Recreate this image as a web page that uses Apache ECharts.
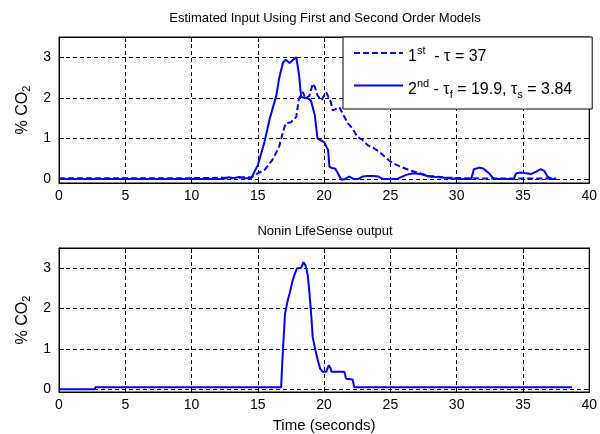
<!DOCTYPE html>
<html>
<head>
<meta charset="utf-8">
<script src="https://cdn.jsdelivr.net/npm/echarts@6/dist/echarts.min.js"></script>
<style>
    html, body { margin: 0; padding: 0; background: #fff; }
    #chart { width: 600px; height: 434px; }
</style>
</head>
<body>
<div id="chart"></div>
<script>
// first order model estimate (dashed)
var firstT = [0, 5, 10, 12.5, 13, 13.5, 14, 14.5, 15.0, 15.5, 16.1, 16.6, 16.9, 17.1, 17.5, 17.9, 18.1, 18.4, 18.6, 18.9,
    19.14, 19.3, 19.5, 19.8, 20.0, 20.15, 20.5, 20.65, 20.85, 21.15, 21.4, 21.8, 22.15, 22.5, 22.9, 23.3, 23.8, 24.3,
    24.7, 25.05, 25.5, 26.4, 27.2, 27.9, 28.7, 29.3, 30.4, 32, 35, 37.5];
var firstY = [0.02, 0.02, 0.02, 0.03, 0.02, 0.03, 0.04, 0.04, 0.14, 0.22, 0.47, 0.79, 1.16, 1.37, 1.40, 1.53, 1.98, 2.14, 1.98, 2.06,
    2.35, 2.27, 2.06, 1.94, 2.06, 2.14, 1.9, 1.69, 1.72, 1.77, 1.61, 1.37, 1.24, 1.04, 0.96, 0.83, 0.75, 0.63,
    0.51, 0.42, 0.34, 0.22, 0.14, 0.07, 0.05, 0.03, 0.02, 0.01, 0.01, 0.01];

// second order model estimate (solid)
var secondT = [0, 5, 10, 12.4, 12.8, 13.2, 13.6, 14.0, 14.5, 15.0, 15.5, 15.9, 16.4, 16.6, 16.9, 17.1, 17.4, 17.6, 17.9, 18.1,
    18.27, 18.5, 18.8, 19.0, 19.3, 19.5, 19.7, 20.0, 20.3, 20.4, 20.6, 20.85, 21.3, 21.6, 21.9, 22.2, 22.6, 22.9, 23.3,
    23.7, 24.1, 24.4, 25.5, 26.2, 26.7, 27.3, 27.9, 28.7, 29.4, 30.2, 31.1, 31.3, 31.7, 32.0, 32.45, 32.8, 34.3, 34.5,
    34.85, 35.6, 36.0, 36.35, 36.6, 36.85, 37.2, 37.5];
var secondY = [0, 0, 0, 0, 0.04, 0.02, 0.05, 0.02, 0.02, 0.34, 0.91, 1.49, 2.06, 2.47, 2.87, 2.94, 2.86, 2.92, 3.0, 2.59,
    2.02, 2.0, 1.98, 1.94, 1.57, 1.0, 0.96, 0.91, 0.71, 0.3, 0.27, 0.25, -0.02, 0.0, 0.06, 0.0, 0.0, 0.06, 0.07,
    0.07, 0.06, 0.0, 0.0, 0.1, 0.14, 0.12, 0.06, 0.04, 0.02, 0, 0, 0.24, 0.28, 0.26, 0.14, 0, 0, 0.14,
    0.16, 0.12, 0.18, 0.24, 0.2, 0.06, 0, 0];

// Nonin LifeSense output
var noninT = [0, 2.7, 2.75, 10, 16.76, 16.8, 16.9, 16.95, 17.05, 17.25, 17.4, 17.6, 17.75, 17.94, 18.27, 18.44, 18.6, 18.77,
    18.9, 19.02, 19.14, 19.34, 19.52, 19.7, 19.9, 20.15, 20.35, 20.5, 20.55, 21.53, 21.66, 22.15, 22.28, 30, 38.7];
var noninY = [0.0, 0.0, 0.05, 0.05, 0.05, 0.35, 1.0, 1.0, 1.87, 2.2, 2.37, 2.66, 2.82, 2.99, 3.01, 3.15, 3.07, 2.82,
    2.37, 1.87, 1.29, 0.97, 0.72, 0.51, 0.43, 0.43, 0.59, 0.51, 0.43, 0.43, 0.26, 0.24, 0.05, 0.05, 0.05];

var xTicks = [0, 5, 10, 15, 20, 25, 30, 35, 40];
var yTicks = [0, 1, 2, 3];

function pairs(t, y) {
    return t.map(function (v, i) { return [v, y[i]]; });
}

var font = 'Liberation Sans, Arial, sans-serif';
var gridLine = { show: true, lineStyle: { color: '#000', type: [4, 3], width: 1 } };
var tickIn = { show: true, inside: true, length: 5, lineStyle: { color: '#000' } };

function xAx(gi, bottom, name) {
    return {
        type: 'value', gridIndex: gi, min: xTicks[0], max: xTicks[xTicks.length - 1], interval: 5,
        position: bottom ? 'bottom' : 'top',
        axisLine: { show: true, onZero: false, lineStyle: { color: '#000' } },
        axisTick: tickIn,
        axisLabel: { show: bottom, color: '#000', fontFamily: font, fontSize: 14, margin: 6 },
        splitLine: bottom ? gridLine : { show: false },
        name: name || '', nameLocation: 'middle', nameGap: 26,
        nameTextStyle: { color: '#000', fontFamily: font, fontSize: 15 }
    };
}
function yAx(gi, left, min) {
    return {
        type: 'value', gridIndex: gi, min: min, max: 3.5,
        position: left ? 'left' : 'right',
        axisLine: { show: true, onZero: false, lineStyle: { color: '#000' } },
        axisTick: tickIn,
        axisLabel: {
            show: left, color: '#000', fontFamily: font, fontSize: 14, margin: 8,
            showMinLabel: false, showMaxLabel: false,
            formatter: function (v) { return yTicks.indexOf(v) >= 0 ? String(v) : ''; }
        },
        splitLine: left ? gridLine : { show: false },
        name: left ? '% CO{sub|2}' : '', nameLocation: 'middle', nameGap: 22,
        nameTextStyle: {
            color: '#000', fontFamily: font, fontSize: 16,
            rich: { sub: { fontSize: 11, fontFamily: font, color: '#000', padding: [9, 0, 0, 0] } }
        }
    };
}

var chart = echarts.init(document.getElementById('chart'));
chart.setOption({
    backgroundColor: '#fff',
    animation: false,
    title: [
        { text: 'Estimated Input Using First and Second Order Models', left: 325, top: 12, padding: 0, textAlign: 'center',
          textStyle: { fontFamily: font, fontSize: 13, fontWeight: 'normal', color: '#000' } },
        { text: 'Nonin LifeSense output', left: 325, top: 225, padding: 0, textAlign: 'center',
          textStyle: { fontFamily: font, fontSize: 13, fontWeight: 'normal', color: '#000' } }
    ],
    grid: [
        { left: 59, top: 37, width: 531, height: 146, show: true, borderColor: '#000', borderWidth: 1, backgroundColor: '#fff' },
        { left: 59, top: 248, width: 531, height: 144, show: true, borderColor: '#000', borderWidth: 1, backgroundColor: '#fff' }
    ],
    xAxis: [xAx(0, true), xAx(0, false), xAx(1, true, 'Time (seconds)'), xAx(1, false)],
    yAxis: [yAx(0, true, -0.1), yAx(0, false, -0.1), yAx(1, true, -0.07), yAx(1, false, -0.07)],
    legend: {
        orient: 'vertical', left: 343, top: 37,
        padding: [3, 20, 8, 10], itemGap: 4, itemWidth: 49, itemHeight: 14,
        backgroundColor: '#fff', borderColor: '#000', borderWidth: 1, borderRadius: 0,
        itemStyle: { opacity: 0 },
        data: ['first', 'second'],
        formatter: function (n) {
            return n === 'first' ? '1{sup|st}  - \u03c4 = 37' : '2{sup|nd} - \u03c4{sub|f} = 19.9, \u03c4{sub|s} = 3.84';
        },
        textStyle: {
            color: '#000', fontFamily: font, fontSize: 16, lineHeight: 18, padding: [8, 0, 0, 0],
            rich: {
                sup: { fontSize: 11, fontFamily: font, color: '#000', lineHeight: 6, padding: [0, 0, 12, 0] },
                sub: { fontSize: 11, fontFamily: font, color: '#000', lineHeight: 6, padding: [11, 0, 1, 0] }
            }
        }
    },
    series: [
        { name: 'first', type: 'line', xAxisIndex: 0, yAxisIndex: 0, data: pairs(firstT, firstY),
          symbol: 'none', color: '#0000ff', lineStyle: { color: '#0000ff', width: 2, type: [6, 3] } },
        { name: 'second', type: 'line', xAxisIndex: 0, yAxisIndex: 0, data: pairs(secondT, secondY),
          symbol: 'none', color: '#0000ff', lineStyle: { color: '#0000ff', width: 2 } },
        { name: 'nonin', type: 'line', xAxisIndex: 2, yAxisIndex: 2, data: pairs(noninT, noninY),
          symbol: 'none', color: '#0000ff', lineStyle: { color: '#0000ff', width: 2 } }
    ]
});
</script>
</body>
</html>
